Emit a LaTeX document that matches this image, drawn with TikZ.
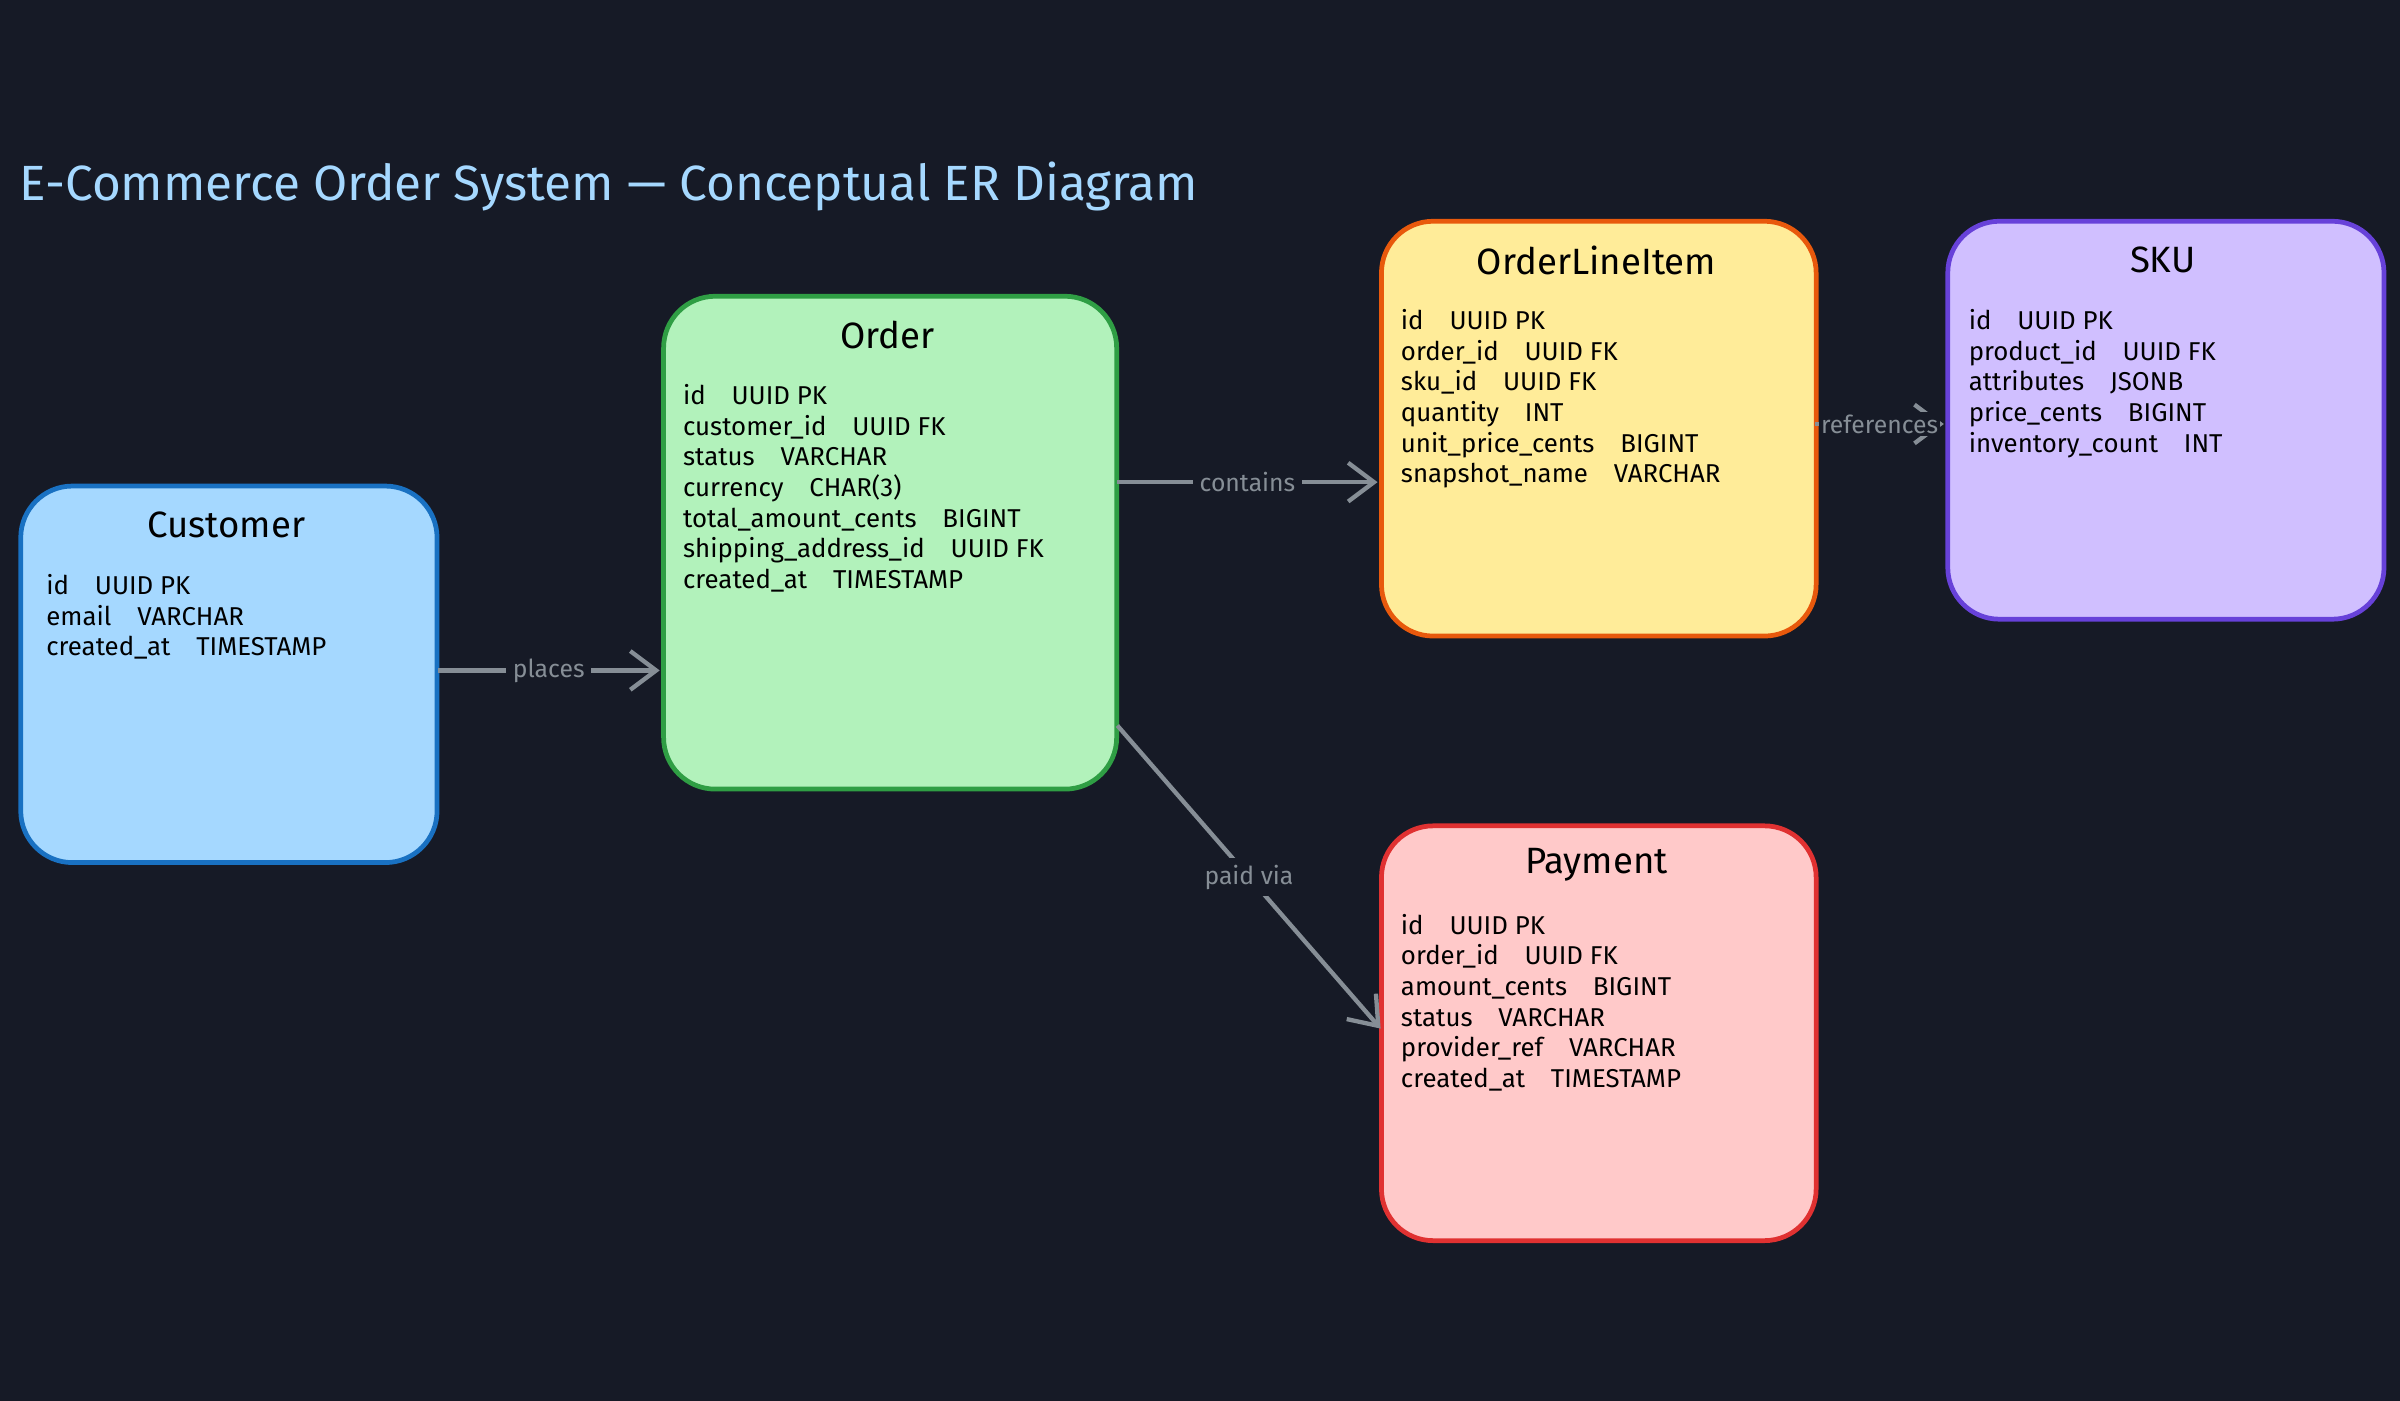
\documentclass[tikz,border=0pt]{standalone}
\usepackage{fontspec}
\setmainfont{Fira Sans}
\usetikzlibrary{arrows.meta,positioning}
\definecolor{bg}{HTML}{161A26}
\definecolor{conn}{HTML}{868E96}
\definecolor{ttl}{HTML}{A5D8FF}
\tikzset{
 ent/.style={draw, line width=2.2pt, rounded corners=24pt, anchor=north west, inner sep=0pt},
 etitle/.style={font=\fontsize{17}{20}\selectfont, text=black, anchor=center},
 rows/.style={font=\fontsize{12}{14.2}\selectfont, text=black, anchor=north west, align=left, inner sep=0pt},
 rel/.style={draw=conn, line width=2pt, -{Straight Barb[length=12pt,width=18pt,line width=2pt]}},
 rlab/.style={fill=bg, text=conn, font=\fontsize{11.5}{13}\selectfont, inner sep=3pt}
}
\begin{document}
\begin{tikzpicture}[x=0.025cm,y=-0.025cm]
\fill[bg] (0,0) rectangle (1568,915);
\useasboundingbox (0,0) rectangle (1568,915);
\node[anchor=west, text=ttl, font=\fontsize{23}{26}\selectfont] (title) at (8,122) {E-Commerce Order System — Conceptual ER Diagram};
% Customer
\node[ent, draw={rgb,255:red,25;green,113;blue,194}, fill=ttl, minimum width=272*0.025cm, minimum height=246*0.025cm] (cust) at (12,316) {};
\node[etitle] (custT) at (148,343) {Customer};
\node[rows] (custR) at (30,375) {id\quad UUID PK\\email\quad VARCHAR\\created\_at\quad TIMESTAMP};
% Order
\node[ent, draw={rgb,255:red,47;green,158;blue,68}, fill={rgb,255:red,178;green,242;blue,187}, minimum width=296*0.025cm, minimum height=322*0.025cm] (ord) at (432,192) {};
\node[etitle] (ordT) at (580,219) {Order};
\node[rows] (ordR) at (446,251) {id\quad UUID PK\\customer\_id\quad UUID FK\\status\quad VARCHAR\\currency\quad CHAR(3)\\total\_amount\_cents\quad BIGINT\\shipping\_address\_id\quad UUID FK\\created\_at\quad TIMESTAMP};
% OrderLineItem
\node[ent, draw={rgb,255:red,232;green,89;blue,12}, fill={rgb,255:red,255;green,236;blue,153}, minimum width=284*0.025cm, minimum height=271*0.025cm] (oli) at (901,143) {};
\node[etitle] (oliT) at (1043,170) {OrderLineItem};
\node[rows] (oliR) at (915,202) {id\quad UUID PK\\order\_id\quad UUID FK\\sku\_id\quad UUID FK\\quantity\quad INT\\unit\_price\_cents\quad BIGINT\\snapshot\_name\quad VARCHAR};
% SKU
\node[ent, draw={rgb,255:red,103;green,65;blue,217}, fill={rgb,255:red,208;green,191;blue,255}, minimum width=285*0.025cm, minimum height=260*0.025cm] (sku) at (1271,143) {};
\node[etitle] (skuT) at (1413,170) {SKU};
\node[rows] (skuR) at (1286,202) {id\quad UUID PK\\product\_id\quad UUID FK\\attributes\quad JSONB\\price\_cents\quad BIGINT\\inventory\_count\quad INT};
% Payment
\node[ent, draw={rgb,255:red,224;green,49;blue,49}, fill={rgb,255:red,255;green,201;blue,201}, minimum width=284*0.025cm, minimum height=271*0.025cm] (pay) at (901,538) {};
\node[etitle] (payT) at (1043,565) {Payment};
\node[rows] (payR) at (915,597) {id\quad UUID PK\\order\_id\quad UUID FK\\amount\_cents\quad BIGINT\\status\quad VARCHAR\\provider\_ref\quad VARCHAR\\created\_at\quad TIMESTAMP};
% connectors
\coordinate (c1) at (286,438); \coordinate (o1) at (431,438);
\draw[rel] (c1) -- node[rlab]{places} (o1);
\coordinate (o2) at (730,315); \coordinate (l1) at (900,315);
\draw[rel] (o2) -- node[rlab]{contains} (l1);
\coordinate (l2) at (1186,277); \coordinate (s1) at (1270,277);
\draw[rel] (l2) -- node[rlab, inner sep=1pt]{references} (s1);
\coordinate (o3) at (730,474); \coordinate (p1) at (902,672);
\draw[rel] (o3) -- node[rlab]{paid via} (p1);
\end{tikzpicture}
\end{document}
